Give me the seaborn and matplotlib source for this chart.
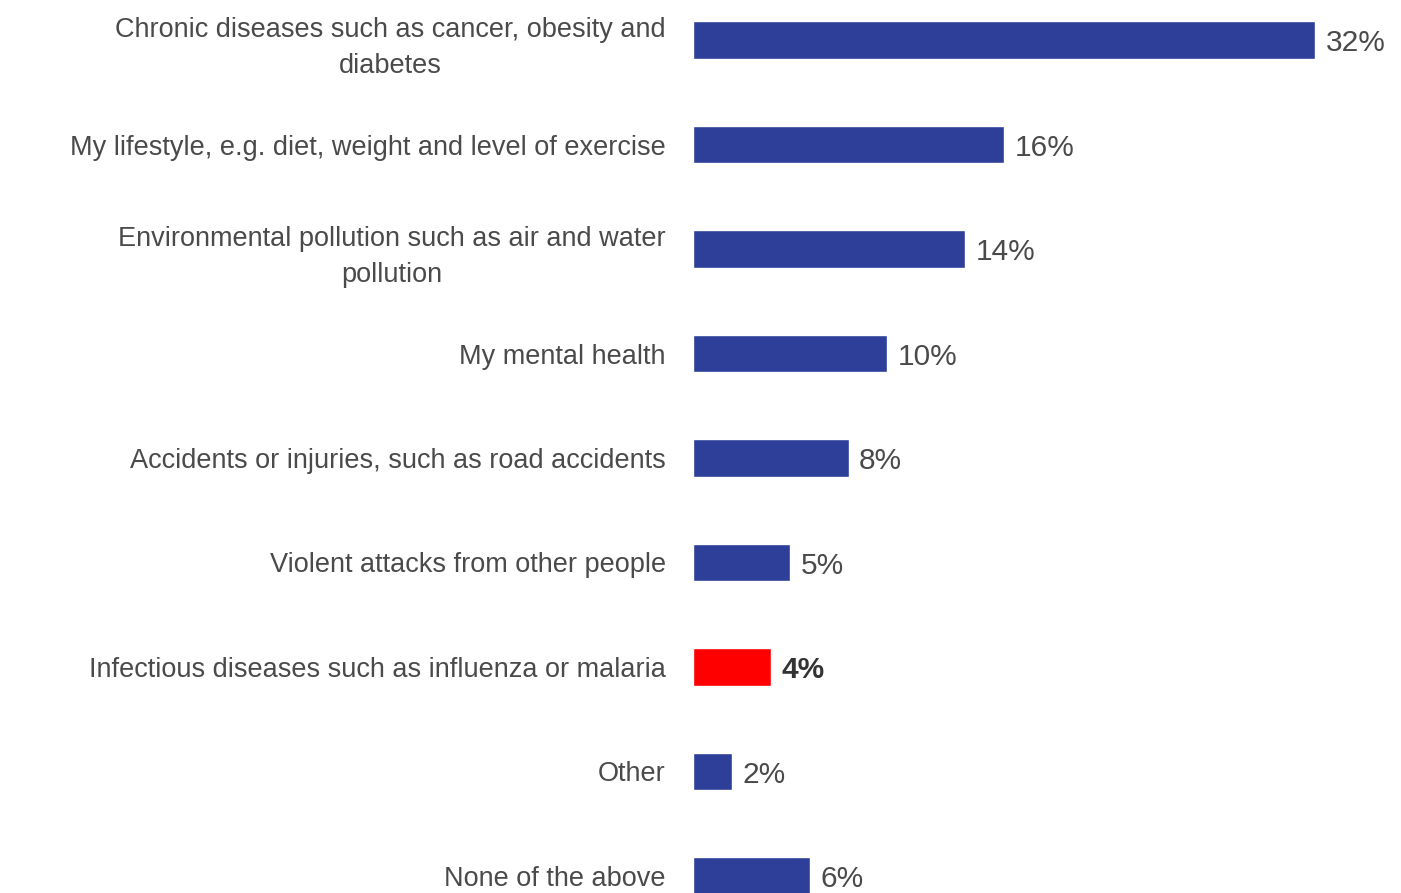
import matplotlib
matplotlib.use("Agg")
import matplotlib.pyplot as plt
import seaborn as sns
import pandas as pd

categories = [
    "Chronic diseases such as cancer, obesity and\ndiabetes",
    "My lifestyle, e.g. diet, weight and level of exercise",
    "Environmental pollution such as air and water\npollution",
    "My mental health",
    "Accidents or injuries, such as road accidents",
    "Violent attacks from other people",
    "Infectious diseases such as influenza or malaria",
    "Other",
    "None of the above",
]
values = [32, 16, 14, 10, 8, 5, 4, 2, 6]
highlight = "Infectious diseases such as influenza or malaria"

BLUE = "#2E3F9A"
RED = "#FF0000"
TEXT = "#4A4A4A"

sns.set_theme(style="white")
plt.rcParams['font.family'] = ['Liberation Sans', 'DejaVu Sans']

df = pd.DataFrame({"cat": categories, "val": values})
palette = {c: (RED if c == highlight else BLUE) for c in categories}

fig = plt.figure(figsize=(14.01, 8.93), dpi=100)
ax = fig.add_axes([693 / 1401, 0.0, 1 - 693 / 1401, 1.0])
sns.barplot(data=df, y="cat", x="val", hue="cat", palette=palette, order=categories,
            orient="h", width=0.355, legend=False, ax=ax, saturation=1)

ax.set_xlim(0, 708 / 19.44)
ax.set_ylim(8.163, -0.383)
ax.set_xlabel("")
ax.set_ylabel("")
ax.set_xticks([])
ax.tick_params(axis="y", length=0, pad=19.5, labelsize=19.5, labelcolor=TEXT)
for lbl in ax.get_yticklabels():
    lbl.set_horizontalalignment("right")
    lbl.set_multialignment("center")
    lbl.set_linespacing(1.5)
for s in ax.spines.values():
    s.set_visible(False)

for i, (c, v) in enumerate(zip(categories, values)):
    bold = c == highlight
    ax.text(v + 0.55, i + 0.03, f"{v}%", va="center", ha="left", fontsize=21.5,
            color="#333333" if bold else TEXT, fontweight="bold" if bold else "normal")

fig.savefig("out.png", dpi=100, facecolor="white")
